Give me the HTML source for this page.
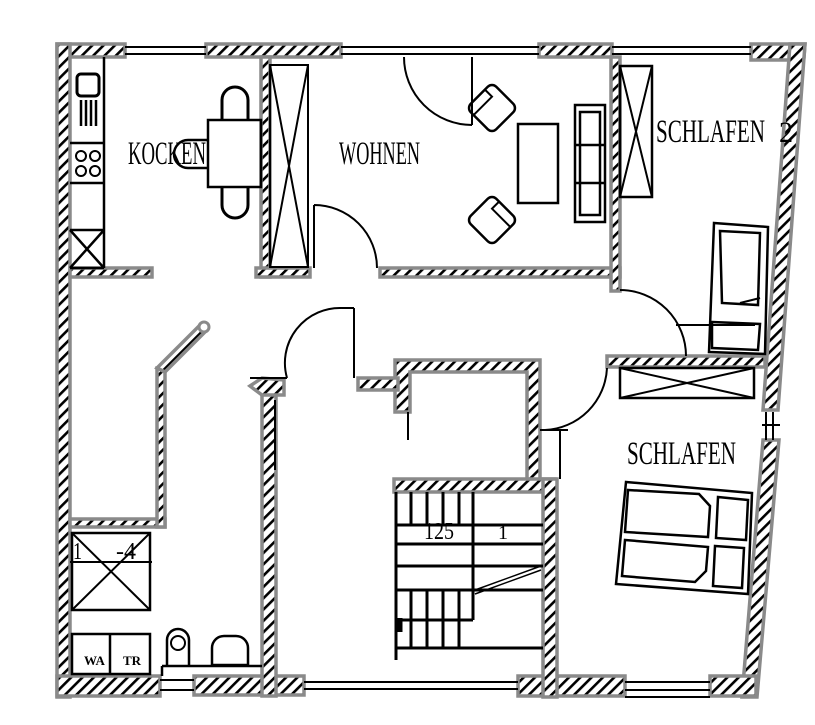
<!DOCTYPE html>
<html><head><meta charset="utf-8"><style>
html,body{margin:0;padding:0;background:#fff;width:815px;height:725px;overflow:hidden}
svg{display:block}
text{font-family:"Liberation Serif",serif;fill:#000}
</style></head><body>
<svg width="815" height="725" viewBox="0 0 815 725" xmlns="http://www.w3.org/2000/svg">
<defs>
<pattern id="h" patternUnits="userSpaceOnUse" width="8" height="8" patternTransform="rotate(45)">
<rect width="8" height="8" fill="#fff"/><rect x="0" y="0" width="2.6" height="8" fill="#000"/>
</pattern>
</defs>
<g fill="url(#h)" stroke="#8a8a8a" stroke-width="3.5">
<rect x="57" y="44" width="68" height="13"/>
<rect x="206" y="44" width="135" height="13"/>
<rect x="539" y="44" width="73" height="13"/>
<polygon points="751,44 805,44 804,57 790,57 790,60 751,60"/>
<rect x="57" y="44" width="13" height="653"/>
<polygon points="790,44 805,44 778,410 763,410"/>
<polygon points="763,440 779,440 757,697 742,697"/>
<rect x="57" y="676" width="103" height="20"/>
<rect x="194" y="676" width="110" height="19"/>
<rect x="518" y="676" width="107" height="20"/>
<rect x="710" y="676" width="46" height="20"/>
<rect x="70" y="268" width="82" height="9"/>
<rect x="261" y="57" width="9" height="220"/>
<rect x="256" y="268" width="54" height="9"/>
<rect x="380" y="268" width="240" height="9"/>
<rect x="611" y="57" width="9" height="234"/>
<rect x="607" y="356" width="158" height="11"/>
<polygon points="395,360 540,360 540,480 527,480 527,372 410,372 410,412 395,412"/>
<rect x="358" y="378" width="40" height="12"/>
<rect x="394" y="479" width="161" height="13"/>
<rect x="543" y="479" width="14" height="218"/>
<rect x="262" y="386" width="14" height="310"/>
<polygon points="250,386 262,378 284,380 284,395 262,395"/>
<polygon points="70,519 165,519 165,527 70,527"/>
<polygon points="157,368 165,368 165,527 157,527"/>
<polygon points="157,368 200,325 207,330 165,372"/>
</g>
<circle cx="204" cy="327" r="5" fill="#fff" stroke="#8a8a8a" stroke-width="3"/>
<g fill="none" stroke="#000" stroke-width="2">
<path d="M125,47H206M125,54H206M341,47H539M341,54H539M612,47H751M612,54H751"/>
<path d="M160,680H194M160,690H194M304,682H518M304,689H518M625,682H710M625,690H710M625,697H710"/>
<path d="M766,412V440M773,412V440M762,425H780"/>
<path d="M104,57V268M70,143H104M70,183H104M70,230H104M70,268H104M70,230L104,268M104,230L70,268" stroke-width="2.5"/>
<rect x="77" y="74" width="22" height="22" rx="4" stroke-width="3"/>
<path d="M81,100V126M86,100V126M91,100V126M96,100V126" stroke-width="2.5"/>
<circle cx="81" cy="156" r="5"/><circle cx="95" cy="156" r="5"/><circle cx="81" cy="171" r="5"/><circle cx="95" cy="171" r="5"/>
<rect x="208" y="120" width="53" height="67" stroke-width="2.5"/>
<path d="M222,120V100a13,13 0 0 1 26,0V120" stroke-width="3"/>
<path d="M222,187V205a13,13 0 0 0 26,0V187" stroke-width="3"/>
<path d="M208,140H188a10,10 0 0 0 0,28H208" stroke-width="2.5"/>
<rect x="270" y="65" width="38" height="202"/><path d="M270,65L308,267M308,65L270,267"/>
<rect x="620" y="66" width="32" height="131" stroke-width="2.5"/><path d="M620,66L652,197M652,66L620,197"/>
<rect x="620" y="368" width="134" height="30" stroke-width="2.5"/><path d="M620,368L754,398M754,368L620,398"/>
<rect x="72" y="533" width="78" height="77" stroke-width="2.5"/><path d="M72,533L150,610M150,533L72,610M70,562H152"/>
<path d="M472,57V125M472,125A68,68 0 0 1 404,57"/>
<path d="M314,205V268M314,205A63,63 0 0 1 377,268"/>
<path d="M620,290A66,66 0 0 1 686,356M676,325H755"/>
<path d="M354,308V378M354,308H342M342,308A55,55 0 0 0 287,378M287,378H250"/>
<path d="M607,368A65,65 0 0 1 545,430M540,430H568M560,430V479"/>
<path d="M408,412V440M275,400V470"/>
<rect x="518" y="124" width="40" height="79" stroke-width="2.5"/>
<path d="M575,105H605V222H575Z M580,112H600V215H580Z M575,145H605M575,183H605" stroke-width="2.5"/>
<g transform="translate(492,108) rotate(45)"><rect x="-18" y="-18" width="36" height="36" rx="6" stroke-width="2.5"/><path d="M-18,-8H-8V18" stroke-width="2"/></g>
<g transform="translate(492,220) rotate(45)"><rect x="-18" y="-18" width="36" height="36" rx="6" stroke-width="2.5"/><path d="M-8,-18V-8H18" stroke-width="2"/></g>
<path d="M714,223L768,227L765,354L709,352Z M720,231L760,233L758,305L722,303Z M712,322L760,324L758,350L712,348Z" stroke-width="2.5"/>
<path d="M740,303L760,298" stroke-width="2"/>
<path d="M626,482L752,493L748,594L616,584Z" stroke-width="2.5"/>
<path d="M628,490L699,494L710,506L708,537L625,532Z M625,540L708,547L706,571L695,582L622,576Z M718,497L748,500L746,540L716,538Z M715,546L744,548L742,588L713,586Z" stroke-width="2.5"/>
<path d="M396,492V660M396,648H543M396,525H543M396,544H543M396,566H472M396,590H472M473,525V620M473,566H543M473,590H543M396,620H473" stroke-width="3"/>
<path d="M411,492V525M427,492V525M443,492V525M459,492V525M473,492V525M411,590V648M427,590V648M443,590V648M459,590V648" stroke-width="3"/>
<path d="M475,590L541,566M475,594L541,570" stroke-width="1.5"/>
<path d="M400,618L400,632" stroke-width="5"/>
<rect x="72" y="634" width="78" height="40" stroke-width="2.5"/><path d="M110,634V674" stroke-width="2.5"/>
<path d="M162,666H262M162,666V676" stroke-width="2.5"/>
<path d="M167,665V640a11,11 0 0 1 22,0V665" stroke-width="2.5"/><circle cx="178" cy="643" r="7"/>
<path d="M212,665V648a12,12 0 0 1 12,-12H236a12,12 0 0 1 12,12V665Z" stroke-width="2.5"/>
</g>
<text x="128" y="164" font-size="33" textLength="78" lengthAdjust="spacingAndGlyphs">KOCKEN</text>
<text x="339" y="164" font-size="33" textLength="81" lengthAdjust="spacingAndGlyphs">WOHNEN</text>
<text x="656" y="142" font-size="33" textLength="109" lengthAdjust="spacingAndGlyphs">SCHLAFEN</text>
<text x="779" y="142" font-size="30" textLength="14" lengthAdjust="spacingAndGlyphs">2</text>
<text x="627" y="464" font-size="33" textLength="109" lengthAdjust="spacingAndGlyphs">SCHLAFEN</text>
<text x="73" y="559" font-size="24" textLength="9" lengthAdjust="spacingAndGlyphs">1</text>
<text x="116" y="559" font-size="24" textLength="20" lengthAdjust="spacingAndGlyphs">-4</text>
<text x="424" y="539" font-size="24" textLength="30" lengthAdjust="spacingAndGlyphs">125</text>
<text x="498" y="539" font-size="20">1</text>
<text x="84" y="665" font-size="13" font-weight="bold">WA</text>
<text x="123" y="665" font-size="13" font-weight="bold">TR</text>
</svg>
</body></html>
